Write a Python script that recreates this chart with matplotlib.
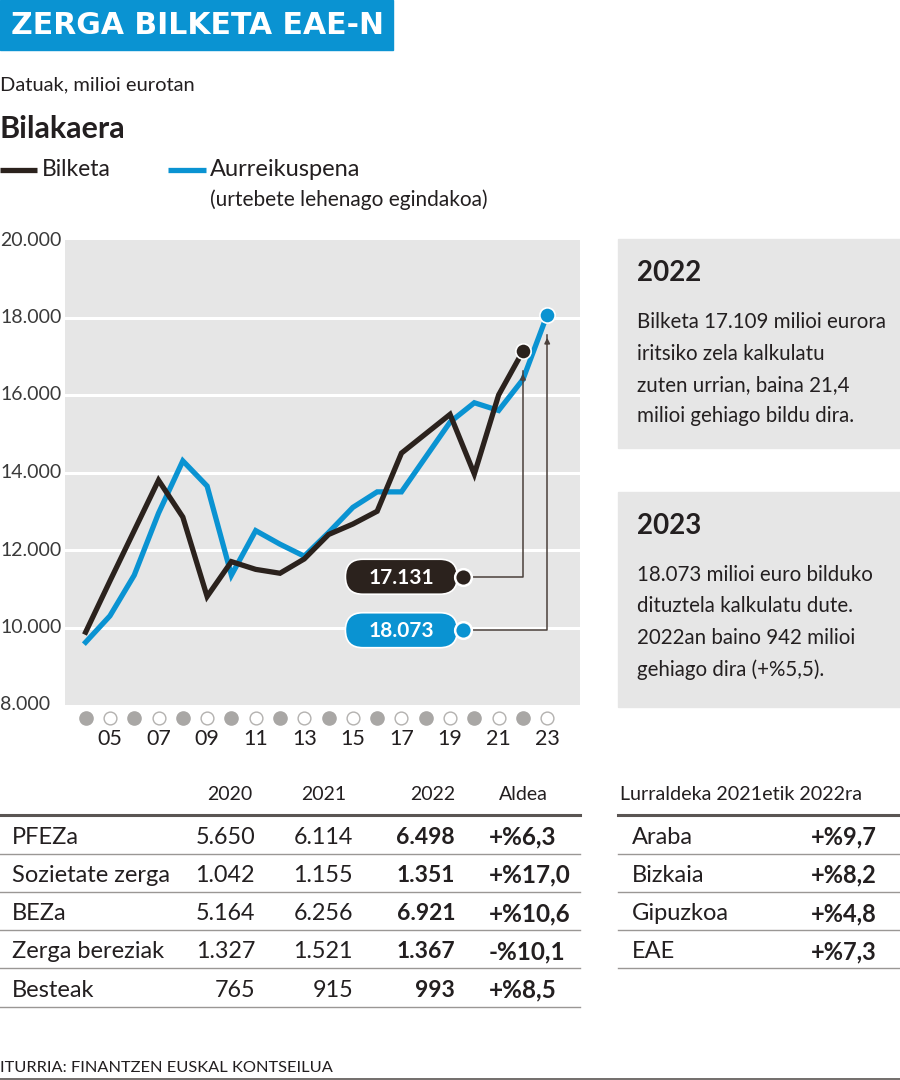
import matplotlib
matplotlib.use("Agg")
import matplotlib.pyplot as plt
from matplotlib.patches import Rectangle, FancyBboxPatch
from matplotlib.transforms import blended_transform_factory

plt.rcParams["font.family"] = ["Lato", "DejaVu Sans"]

DARK = "#2b221d"
BLUE = "#0a93d2"
GREY_BG = "#e6e6e6"
TXT = "#231f20"

# --- data -------------------------------------------------------------
years_bilketa = list(range(2004, 2023))
bilketa = [9880, 11200, 12500, 13800, 12850, 10800, 11700, 11500, 11400, 11770,
           12400, 12670, 13000, 14500, 15000, 15500, 13960, 16000, 17131]
years_aurre = list(range(2004, 2024))
aurreikuspena = [9620, 10300, 11350, 12950, 14300, 13650, 11350, 12500, 12150, 11840,
                 12450, 13100, 13500, 13500, 14400, 15300, 15800, 15600, 16400, 18073]

y_ticks = [8000, 10000, 12000, 14000, 16000, 18000, 20000]
y_tick_labels = ["8.000", "10.000", "12.000", "14.000", "16.000", "18.000", "20.000"]
x_label_years = [2005, 2007, 2009, 2011, 2013, 2015, 2017, 2019, 2021, 2023]

# callouts: label, colour, year pointed at, arrow tip value, label level
callout_labels = ["17.131", "18.073"]
callout_colors = [DARK, BLUE]
callout_years = [2022, 2023]
callout_tips = [16620, 17550]
callout_levels = [11310, 9930]
callout_anchor_year = 2019.55

table_cols = ["2020", "2021", "2022", "Aldea"]
table_rows = ["PFEZa", "Sozietate zerga", "BEZa", "Zerga bereziak", "Besteak"]
val_2020 = ["5.650", "1.042", "5.164", "1.327", "765"]
val_2021 = ["6.114", "1.155", "6.256", "1.521", "915"]
val_2022 = ["6.498", "1.351", "6.921", "1.367", "993"]
aldea = ["+%6,3", "+%17,0", "+%10,6", "-%10,1", "+%8,5"]

regions = ["Araba", "Bizkaia", "Gipuzkoa", "EAE"]
region_change = ["+%9,7", "+%8,2", "+%4,8", "+%7,3"]

box_titles = ["2022", "2023"]
box_texts = [
    ["Bilketa 17.109 milioi eurora", "iritsiko zela kalkulatu",
     "zuten urrian, baina 21,4", "milioi gehiago bildu dira."],
    ["18.073 milioi euro bilduko", "dituztela kalkulatu dute.",
     "2022an baino 942 milioi", "gehiago dira (+%5,5)."],
]

# --- figure -----------------------------------------------------------
W, H = 900, 1080
fig = plt.figure(figsize=(W / 100, H / 100), dpi=100)
fig.patch.set_facecolor("white")

# chart axes, placed in pixels
ax = fig.add_axes([65 / W, 1 - 705 / H, (580 - 65) / W, (705 - 240) / H])
ax.set_facecolor(GREY_BG)
ax.set_xlim(2003.15, 2024.35)
ax.set_ylim(8000, 20000)
for s in ax.spines.values():
    s.set_visible(False)
ax.set_xticks([])
ax.set_yticks([])
for v in y_ticks[1:-1]:
    ax.axhline(v, color="white", lw=2.2, zorder=1)

ax.plot(years_aurre, aurreikuspena, color=BLUE, lw=3.8, zorder=3,
        solid_joinstyle="miter")
ax.plot(years_bilketa, bilketa, color=DARK, lw=3.8, zorder=4,
        solid_joinstyle="miter")
ax.plot(years_bilketa[-1], bilketa[-1], "o", ms=11, color=DARK, mec="white",
        mew=1.2, zorder=5)
ax.plot(years_aurre[-1], aurreikuspena[-1], "o", ms=11, color=BLUE, mec="white",
        mew=1.2, zorder=5)

# y tick labels left-aligned at figure edge
ytrans = blended_transform_factory(fig.transFigure, ax.transData)
for v, lab in zip(y_ticks, y_tick_labels):
    ax.text(0.0, v, lab, transform=ytrans, ha="left", va="center",
            fontsize=14, color="#3a3a3a", clip_on=False)

# year dots and labels below
xtrans = blended_transform_factory(ax.transData, ax.transAxes)
for i, yr in enumerate(years_aurre):
    if i % 2 == 0:
        ax.plot(yr, -0.028, "o", ms=9.5, color="#a9a7a5", mec="#a9a7a5",
                transform=xtrans, clip_on=False)
    else:
        ax.plot(yr, -0.028, "o", ms=9.2, color="white", mec="#b3b1af", mew=1,
                transform=xtrans, clip_on=False)
for yr in x_label_years:
    ax.text(yr, -0.073, f"{yr % 100:02d}", transform=xtrans, ha="center",
            va="center", fontsize=15.5, color=TXT, clip_on=False)

# connectors from callouts to data points
for yr, tip, lev in zip(callout_years, callout_tips, callout_levels):
    ax.plot([callout_anchor_year, yr, yr], [lev, lev, tip], color="#4a403b",
            lw=1.1, zorder=6)
    ax.annotate("", xy=(yr, tip), xytext=(yr, tip - 300),
                arrowprops=dict(arrowstyle="-|>", color="#4a403b", lw=1.1,
                                mutation_scale=8), zorder=6)

# overlay axes in pixel units for layout text
ov = fig.add_axes([0, 0, 1, 1], zorder=10)
ov.set_xlim(0, W)
ov.set_ylim(H, 0)
ov.axis("off")
ov.patch.set_alpha(0)

# callout pills
for lab, col, lev in zip(callout_labels, callout_colors, callout_levels):
    dx, dy = ax.transData.transform((callout_anchor_year, lev))
    py = H - dy
    pill = FancyBboxPatch((dx - 118, py - 17.5), 112, 35,
                          boxstyle="round,pad=0,rounding_size=17.5",
                          fc=col, ec="white", lw=1.2, zorder=11)
    ov.add_patch(pill)
    ov.plot(dx, py, "o", ms=12, color=col, mec="white", mew=1.8, zorder=12)
    ov.text(dx - 62, py + 1, lab, ha="center", va="center", fontsize=15,
            fontweight="bold", color="white", zorder=13)

# header
ov.add_patch(Rectangle((0, 0), 393, 50, color=BLUE))
ov.text(11, 25, "ZERGA BILKETA EAE-N", color="white", fontsize=21.5,
        fontweight="bold", family="DejaVu Sans", ha="left", va="center")
ov.text(0, 85, "Datuak, milioi eurotan", fontsize=14.5, color=TXT,
        ha="left", va="center")
ov.text(0, 129, "Bilakaera", fontsize=22, fontweight="bold", color=TXT,
        ha="left", va="center")

# legend
ov.plot([0, 37], [170, 170], color=DARK, lw=3.8, solid_capstyle="butt")
ov.text(42, 170, "Bilketa", fontsize=16.5, color=TXT, ha="left", va="center")
ov.plot([168, 206], [170, 170], color=BLUE, lw=3.8, solid_capstyle="butt")
ov.text(210, 170, "Aurreikuspena", fontsize=17, color=TXT, ha="left",
        va="center")
ov.text(210, 200, "(urtebete lehenago egindakoa)", fontsize=15, color=TXT,
        ha="left", va="center")

# side boxes
box_tops = [239, 492]
box_bottoms = [448, 707]
for top, bot, title, lines in zip(box_tops, box_bottoms, box_titles, box_texts):
    ov.add_patch(Rectangle((618, top), W - 618, bot - top, color=GREY_BG))
    ov.text(637, top + 34, title, fontsize=20, fontweight="bold", color=TXT,
            ha="left", va="center")
    for k, line in enumerate(lines):
        ov.text(637, top + 83 + k * 31.5, line, fontsize=14.8, color=TXT,
                ha="left", va="center")

# main table
row_y0, row_h = 837, 38.3
ov.text(252, 794, table_cols[0], fontsize=14, color=TXT, ha="right", va="center")
ov.text(346, 794, table_cols[1], fontsize=14, color=TXT, ha="right", va="center")
ov.text(455, 794, table_cols[2], fontsize=14, color=TXT, ha="right", va="center")
ov.text(499, 794, table_cols[3], fontsize=14, color=TXT, ha="left", va="center")
ov.plot([0, 580], [815, 815], color="#5a5553", lw=2.2)
for i, name in enumerate(table_rows):
    yy = row_y0 + i * row_h
    ov.text(12, yy, name, fontsize=17, color=TXT, ha="left", va="center")
    ov.text(255, yy, val_2020[i], fontsize=16.8, color=TXT, ha="right", va="center")
    ov.text(353, yy, val_2021[i], fontsize=16.8, color=TXT, ha="right", va="center")
    ov.text(455, yy, val_2022[i], fontsize=16.5, fontweight="bold", color=TXT,
            ha="right", va="center")
    ov.text(489, yy, aldea[i], fontsize=17.5, fontweight="bold", color=TXT,
            ha="left", va="center")
    ov.plot([0, 580], [yy + 16.5, yy + 16.5], color="#9a9795", lw=1)

# regional table
ov.text(620, 795, "Lurraldeka 2021etik 2022ra", fontsize=14.2, color=TXT,
        ha="left", va="center")
ov.plot([618, W], [815, 815], color="#5a5553", lw=2.2)
for i, name in enumerate(regions):
    yy = row_y0 + i * row_h
    ov.text(632, yy, name, fontsize=17, color=TXT, ha="left", va="center")
    ov.text(877, yy, region_change[i], fontsize=17, fontweight="bold",
            color=TXT, ha="right", va="center")
    ov.plot([618, W], [yy + 16.5, yy + 16.5], color="#9a9795", lw=1)

# footer
ov.text(0, 1068, "ITURRIA: FINANTZEN EUSKAL KONTSEILUA", fontsize=11.8,
        color=TXT, ha="left", va="center")
ov.plot([0, W], [1079, 1079], color="#5a5553", lw=1.2)

fig.savefig("out.png", dpi=100)
